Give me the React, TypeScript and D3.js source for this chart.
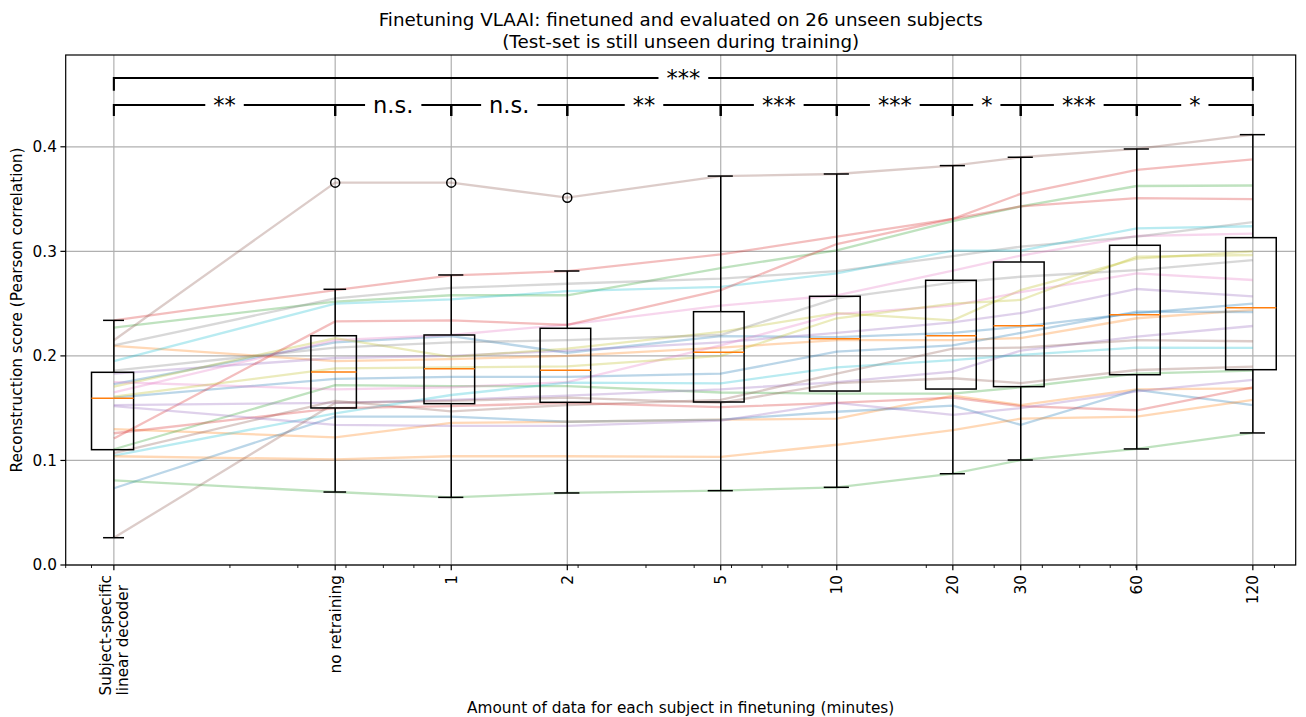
import React from 'react';
import * as d3 from 'd3';

// x positions (minutes) for each group, and their tick labels
const positions = [2 / 15, 0.5, 1, 2, 5, 10, 20, 30, 60, 120];
const tickLabels = [['Subject-specific', 'linear decoder'], ['no retraining'], ['1'], ['2'], ['5'], ['10'], ['20'], ['30'], ['60'], ['120']];
const yTicks = [0, 0.1, 0.2, 0.3, 0.4];

// one row per subject, one value per group (Pearson r)
const subjects = [
  [0.173, 0.213, 0.219, 0.203, 0.219, 0.218, 0.222, 0.228, 0.241, 0.250],
  [0.2095, 0.195, 0.197, 0.200, 0.208, 0.215, 0.215, 0.217, 0.236, 0.244],
  [0.227, 0.252, 0.258, 0.258, 0.284, 0.301, 0.329, 0.343, 0.3625, 0.363],
  [0.234, 0.263, 0.277, 0.281, 0.297, 0.314, 0.331, 0.343, 0.351, 0.350],
  [0.183, 0.198, 0.200, 0.205, 0.213, 0.222, 0.232, 0.241, 0.264, 0.257],
  [0.215, 0.3657, 0.3657, 0.3513, 0.372, 0.374, 0.382, 0.390, 0.398, 0.4116],
  [0.165, 0.215, 0.220, 0.230, 0.248, 0.258, 0.2815, 0.296, 0.3147, 0.317],
  [0.210, 0.255, 0.265, 0.269, 0.274, 0.281, 0.2955, 0.3045, 0.314, 0.328],
  [0.1706, 0.217, 0.199, 0.207, 0.223, 0.241, 0.234, 0.263, 0.293, 0.300],
  [0.195, 0.250, 0.254, 0.262, 0.266, 0.279, 0.3006, 0.3006, 0.322, 0.324],
  [0.160, 0.178, 0.180, 0.180, 0.183, 0.204, 0.210, 0.222, 0.2423, 0.242],
  [0.130, 0.122, 0.136, 0.137, 0.139, 0.140, 0.162, 0.153, 0.168, 0.169],
  [0.1107, 0.172, 0.171, 0.171, 0.165, 0.164, 0.164, 0.170, 0.183, 0.186],
  [0.121, 0.233, 0.234, 0.2296, 0.263, 0.307, 0.331, 0.355, 0.378, 0.388],
  [0.153, 0.155, 0.158, 0.162, 0.168, 0.175, 0.185, 0.205, 0.2184, 0.2286],
  [0.107, 0.157, 0.147, 0.153, 0.158, 0.183, 0.207, 0.208, 0.215, 0.214],
  [0.175, 0.168, 0.170, 0.175, 0.210, 0.240, 0.248, 0.261, 0.279, 0.2726],
  [0.186, 0.208, 0.213, 0.215, 0.220, 0.255, 0.270, 0.2757, 0.282, 0.2917],
  [0.161, 0.188, 0.189, 0.190, 0.200, 0.236, 0.250, 0.2535, 0.295, 0.2965],
  [0.1046, 0.145, 0.1626, 0.1744, 0.1738, 0.189, 0.196, 0.2009, 0.2079, 0.2076],
  [0.0734, 0.142, 0.142, 0.137, 0.139, 0.1466, 0.1524, 0.134, 0.1674, 0.153],
  [0.104, 0.101, 0.104, 0.104, 0.1035, 0.115, 0.129, 0.140, 0.142, 0.158],
  [0.081, 0.0698, 0.0647, 0.0689, 0.0711, 0.0743, 0.0873, 0.1004, 0.111, 0.1263],
  [0.126, 0.150, 0.152, 0.155, 0.151, 0.155, 0.160, 0.152, 0.148, 0.170],
  [0.152, 0.134, 0.133, 0.133, 0.138, 0.155, 0.1435, 0.150, 0.166, 0.177],
  [0.026, 0.155, 0.157, 0.160, 0.155, 0.174, 0.1786, 0.174, 0.1865, 0.1897],
];

// boxplot statistics per group
const whiskerLow = [0.0261, 0.0698, 0.0647, 0.0689, 0.0711, 0.0743, 0.0873, 0.1004, 0.111, 0.1263];
const q1 = [0.1103, 0.1502, 0.1543, 0.1556, 0.1559, 0.1664, 0.1683, 0.1706, 0.182, 0.1868];
const medians = [0.1594, 0.1846, 0.1878, 0.1862, 0.2034, 0.2165, 0.2193, 0.2289, 0.2394, 0.2461];
const q3 = [0.1843, 0.2193, 0.22, 0.2264, 0.2423, 0.257, 0.2723, 0.2898, 0.3058, 0.3131];
const whiskerHigh = [0.234, 0.2637, 0.2774, 0.2812, 0.372, 0.374, 0.382, 0.39, 0.3979, 0.4116];
const outliers = [[], [0.3657], [0.3657], [0.3513], [], [], [], [], [], []];

// significance between neighbouring groups, and first vs last
const pairLabels = ['**', 'n.s.', 'n.s.', '**', '***', '***', '*', '***', '*'];
const overallLabel = '***';

const W = 1306;
const H = 717;
const left = 65.7, right = 1295.7, top = 55, bottom = 565;
const FONT = 'DejaVu Sans, sans-serif';
const FS = 15.3;

const charW: Record<string, number> = { '*': 0.5, 'n': 0.634, 's': 0.521, '.': 0.318 };
const textWidth = (t: string, size: number) => t.split('').reduce((s, c) => s + (charW[c] ?? 0.6), 0) * size;

export default function App() {
  const x = d3.scaleLog().domain([0.1, 155]).range([left, right]);
  const y = d3.scaleLinear().domain([0, 0.4878]).range([bottom, top]);
  const color = d3.scaleOrdinal<number, string>().domain(d3.range(10)).range(d3.schemeCategory10);
  const line = d3.line<number>().x((_, i) => x(positions[i])).y(d => y(d));

  // base-8 minor ticks (the axis was laid out in 7.5-minute units)
  const minor: number[] = [];
  for (let k = -1; k <= 4; k++) {
    for (let m = 2; m <= 7; m++) {
      const v = (m * Math.pow(8, k)) / 7.5;
      if (v >= 0.1 && v <= 155) minor.push(v);
    }
  }

  const boxFrac = (i: number) => (i === 0 ? 0.125 : i === 1 ? 0.135 : 0.15);
  const sigSize = 22.5;

  const bracket = (xa: number, xb: number, yLine: number, yEnd: number, label: string, key: string) => {
    const cx = (xa + xb) / 2;
    const tw = textWidth(label, sigSize) + 16;
    return (
      <g key={key}>
        <path d={`M${xa},${yEnd}V${yLine}H${xb}V${yEnd}`} fill="none" stroke="#000" strokeWidth={2.1} />
        <rect x={cx - tw / 2} y={yLine - 14} width={tw} height={28} fill="#fff" />
        <text x={cx} y={yLine} dy="0.36em" textAnchor="middle" fontSize={sigSize} fontFamily={FONT}>{label}</text>
      </g>
    );
  };

  return (
    <svg width={W} height={H} style={{ position: 'absolute', left: 0, top: 0, background: '#fff' }}>
      <rect width={W} height={H} fill="#fff" />
      {/* grid */}
      {positions.map((p, i) => (
        <line key={'gx' + i} x1={x(p)} x2={x(p)} y1={top} y2={bottom} stroke="#b0b0b0" strokeWidth={1.2} />
      ))}
      {yTicks.map((t, i) => (
        <line key={'gy' + i} x1={left} x2={right} y1={y(t)} y2={y(t)} stroke="#b0b0b0" strokeWidth={1.2} />
      ))}

      {/* subject lines */}
      {subjects.map((s, i) => (
        <path key={'s' + i} d={line(s) || ''} fill="none" stroke={color(i % 10)} strokeOpacity={0.3} strokeWidth={2.3} />
      ))}

      {/* boxplots */}
      {positions.map((p, i) => {
        const a = boxFrac(i);
        const xl = x(p * (1 - a)), xr = x(p * (1 + a));
        const cl = x(p * (1 - a / 2)), cr = x(p * (1 + a / 2));
        const cx = x(p);
        return (
          <g key={'b' + i} stroke="#000" strokeWidth={1.5} fill="none">
            <rect x={xl} y={y(q3[i])} width={xr - xl} height={y(q1[i]) - y(q3[i])} />
            <line x1={cx} x2={cx} y1={y(q1[i])} y2={y(whiskerLow[i])} />
            <line x1={cx} x2={cx} y1={y(q3[i])} y2={y(whiskerHigh[i])} />
            <line x1={cl} x2={cr} y1={y(whiskerLow[i])} y2={y(whiskerLow[i])} />
            <line x1={cl} x2={cr} y1={y(whiskerHigh[i])} y2={y(whiskerHigh[i])} />
            <line x1={xl} x2={xr} y1={y(medians[i])} y2={y(medians[i])} stroke="#ff7f0e" />
            {outliers[i].map((o, j) => (
              <circle key={j} cx={cx} cy={y(o)} r={4.5} />
            ))}
          </g>
        );
      })}

      {/* significance brackets */}
      {pairLabels.map((l, i) => bracket(x(positions[i]), x(positions[i + 1]), y(0.44), y(0.4295), l, 'p' + i))}
      {bracket(x(positions[0]), x(positions[positions.length - 1]), y(0.4658), y(0.4535), overallLabel, 'all')}

      {/* spines */}
      <rect x={left} y={top} width={right - left} height={bottom - top} fill="none" stroke="#000" strokeWidth={1.2} />

      {/* x ticks */}
      {minor.map((v, i) => (
        <line key={'mt' + i} x1={x(v)} x2={x(v)} y1={bottom} y2={bottom + 3} stroke="#000" strokeWidth={0.9} />
      ))}
      {positions.map((p, i) => (
        <g key={'xt' + i}>
          <line x1={x(p)} x2={x(p)} y1={bottom} y2={bottom + 5.3} stroke="#000" strokeWidth={1.2} />
          {tickLabels[i].map((t, j, arr) => (
            <text
              key={j}
              transform={`translate(${x(p) + (j - (arr.length - 1) / 2) * 16.7},${arr.length > 1 ? 695.5 : 575}) rotate(-90)`}
              textAnchor={arr.length > 1 ? 'start' : 'end'}
              dy="0.35em"
              fontSize={FS}
              fontFamily={FONT}
            >
              {t}
            </text>
          ))}
        </g>
      ))}

      {/* y ticks */}
      {yTicks.map((t, i) => (
        <g key={'yt' + i}>
          <line x1={left - 5.3} x2={left} y1={y(t)} y2={y(t)} stroke="#000" strokeWidth={1.2} />
          <text x={left - 8.8} y={y(t)} dy="0.35em" textAnchor="end" fontSize={FS} fontFamily={FONT}>{t.toFixed(1)}</text>
        </g>
      ))}

      {/* titles */}
      <text x={(left + right) / 2} y={25.5} textAnchor="middle" fontSize={18.3} fontFamily={FONT}>
        Finetuning VLAAI: finetuned and evaluated on 26 unseen subjects
      </text>
      <text x={(left + right) / 2} y={47.5} textAnchor="middle" fontSize={18.3} fontFamily={FONT}>
        (Test-set is still unseen during training)
      </text>
      <text x={(left + right) / 2} y={712.5} textAnchor="middle" fontSize={FS} fontFamily={FONT}>
        Amount of data for each subject in finetuning (minutes)
      </text>
      <text transform={`translate(22,${(top + bottom) / 2}) rotate(-90)`} textAnchor="middle" fontSize={FS} fontFamily={FONT}>
        Reconstruction score (Pearson correlation)
      </text>
    </svg>
  );
}
